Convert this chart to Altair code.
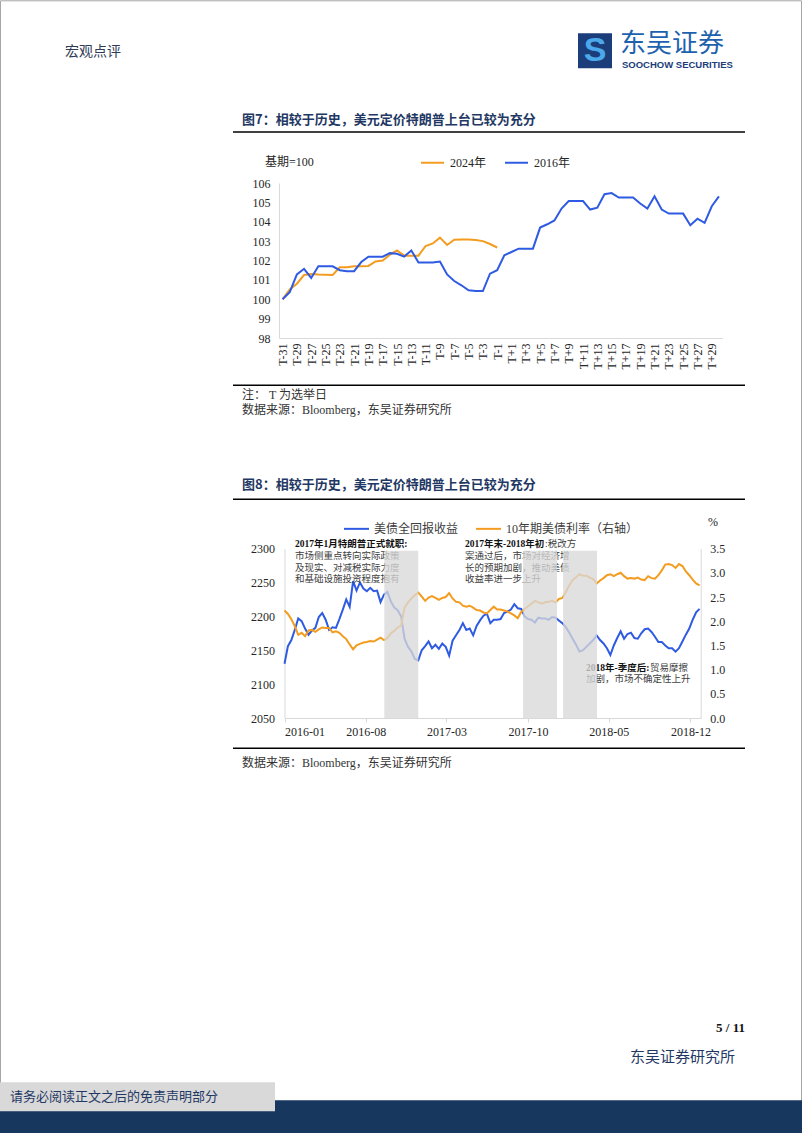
import altair as alt
import pandas as pd

# ---------------- Figure 7 data ----------------
t_labels = [f"T-{i}" for i in range(31, 0, -1)] + ["T"] + [f"T+{i}" for i in range(1, 31)]
fig7_series = ["2024年", "2016年"]
usd_2016 = [100.0, 100.37, 101.28, 101.57, 101.1, 101.7, 101.7, 101.7, 101.5, 101.45,
            101.45, 101.92, 102.2, 102.2, 102.2, 102.38, 102.35, 102.2, 102.52, 101.9,
            101.9, 101.9, 101.95, 101.28, 100.94, 100.72, 100.46, 100.42, 100.42, 101.32,
            101.5, 102.27, 102.44, 102.61, 102.61, 102.61, 103.7, 103.87, 104.07, 104.68,
            105.07, 105.07, 105.07, 104.63, 104.73, 105.42, 105.48, 105.25, 105.25, 105.25,
            104.94, 104.68, 105.31, 104.63, 104.42, 104.42, 104.42, 103.82, 104.16, 103.94,
            104.8, 105.31]
usd_2024 = [100.0, 100.5, 100.8, 101.25, 101.3, 101.28, 101.27, 101.25, 101.65, 101.65,
            101.7, 101.7, 101.72, 101.95, 102.0, 102.3, 102.52, 102.25, 102.25, 102.25,
            102.75, 102.88, 103.18, 102.8, 103.07, 103.08, 103.08, 103.06, 103.0, 102.85,
            102.67]

# ---------------- Figure 8 data ----------------
fig8_series = ["美债全回报收益", "10年期美债利率（右轴）"]
series_start = "2016-01-01"
series_step = "9D"
treasury_tr = [2130, 2156, 2165, 2180, 2197, 2193, 2182, 2173, 2179, 2183,
               2199, 2205, 2195, 2180, 2184, 2183, 2196, 2210, 2225, 2214,
               2252, 2238, 2250, 2241, 2237, 2242, 2237, 2238, 2221, 2232,
               2236, 2222, 2213, 2209, 2200, 2167, 2155, 2148, 2137, 2135,
               2150, 2156, 2163, 2153, 2158, 2152, 2160, 2155, 2142, 2164,
               2172, 2180, 2190, 2180, 2182, 2172, 2186, 2194, 2201, 2204,
               2190, 2195, 2195, 2196, 2205, 2207, 2210, 2218, 2212, 2211,
               2200, 2196, 2195, 2191, 2198, 2197, 2197, 2195, 2199, 2198,
               2194, 2190, 2184, 2176, 2167, 2158, 2148, 2150, 2155, 2160,
               2165, 2172, 2165, 2160, 2153, 2143, 2157, 2168, 2178, 2167,
               2174, 2176, 2168, 2167, 2175, 2181, 2182, 2177, 2170, 2162,
               2162, 2157, 2153, 2153, 2148, 2153, 2163, 2173, 2182, 2195,
               2206, 2211]
ust_10y = [2.22, 2.15, 2.04, 1.90, 1.72, 1.76, 1.69, 1.81, 1.82, 1.78,
           1.83, 1.87, 1.86, 1.86, 1.77, 1.79, 1.76, 1.69, 1.63, 1.52,
           1.42, 1.50, 1.53, 1.56, 1.57, 1.59, 1.58, 1.62, 1.66, 1.61,
           1.65, 1.75, 1.80, 1.87, 1.91, 2.28, 2.39, 2.47, 2.54, 2.59,
           2.51, 2.42, 2.49, 2.52, 2.48, 2.44, 2.48, 2.50, 2.58, 2.47,
           2.40, 2.39, 2.32, 2.30, 2.32, 2.28, 2.23, 2.22, 2.18, 2.16,
           2.23, 2.30, 2.24, 2.24, 2.22, 2.20, 2.16, 2.12, 2.06, 2.19,
           2.25, 2.31, 2.36, 2.42, 2.39, 2.36, 2.39, 2.40, 2.42, 2.39,
           2.46, 2.48, 2.60, 2.74, 2.85, 2.91, 2.97, 2.94, 2.94, 2.90,
           2.87, 2.78, 2.84, 2.89, 2.95, 2.97, 2.93, 2.97, 3.00, 2.93,
           2.88, 2.89, 2.88, 2.90, 2.86, 2.85, 2.93, 2.89, 2.88, 2.95,
           3.05, 3.17, 3.18, 3.16, 3.10, 3.18, 3.14, 3.03, 2.95, 2.86,
           2.78, 2.74]
shade_start = ["2016-09-19", "2017-09-18", "2018-01-01"]
shade_end = ["2016-12-17", "2017-12-16", "2018-03-31"]

# ---------------- styles ----------------
BLUE = "#2F5BE3"
ORANGE = "#F39C1F"
NAVY = "#1F3864"
AXIS_GRAY = "#D9D9D9"
TXT = "#262626"
SERIF = "Liberation Serif, Noto Sans CJK SC"
CJK = "Noto Sans CJK SC"

one = pd.DataFrame({"k": [0]})


def text_at(org, s, x, y, size=12, color=TXT, align="left", weight="normal",
            font=SERIF, baseline="middle"):
    return alt.Chart(one).mark_text(
        text=s, align=align, baseline=baseline, fontSize=size, color=color,
        fontWeight=weight, font=font
    ).encode(x=alt.value(x - org[0]), y=alt.value(y - org[1]))


def box_at(org, x, x2, y, y2, fill=None, stroke=None):
    if stroke is not None:
        kw = dict(fillOpacity=0, stroke=stroke, strokeWidth=1)
    elif fill is None:
        kw = dict(fillOpacity=0, strokeOpacity=0)
    else:
        kw = dict(fill=fill)
    return alt.Chart(one).mark_rect(**kw).encode(
        x=alt.value(x - org[0]), x2=alt.value(x2 - org[0]),
        y=alt.value(y - org[1]), y2=alt.value(y2 - org[1]))


def hrule_at(org, x, x2, y, color="#000000", width=1.5):
    return alt.Chart(one).mark_rule(color=color, strokeWidth=width).encode(
        x=alt.value(x - org[0]), x2=alt.value(x2 - org[0]), y=alt.value(y - org[1]))


# ---------------- Figure 7 ----------------
O7 = (279, 182.7)
W7, H7 = 443.5, 155

df_2016 = pd.DataFrame({"t": t_labels, "v": usd_2016, "s": fig7_series[1]})
df_2024 = pd.DataFrame({"t": t_labels[:len(usd_2024)], "v": usd_2024, "s": fig7_series[0]})

x7 = alt.X("t:O", scale=alt.Scale(type="point", domain=t_labels, padding=0.5),
           axis=alt.Axis(values=t_labels[::2], labelAngle=270, labelAlign="right",
                         labelBaseline="middle", labelPadding=5, ticks=False,
                         domainColor=AXIS_GRAY, labelFont=SERIF, labelFontSize=12,
                         labelColor=TXT, title=None, grid=False, labelOverlap=False))
y7 = alt.Y("v:Q", scale=alt.Scale(domain=[98, 106], nice=False, zero=False),
           axis=alt.Axis(values=list(range(98, 107)), ticks=False, domainColor=AXIS_GRAY,
                         labelFont=SERIF, labelFontSize=12, labelColor=TXT,
                         labelPadding=9, title=None, grid=False))
c7 = alt.Color("s:N", scale=alt.Scale(domain=fig7_series, range=[ORANGE, BLUE]),
               legend=alt.Legend(orient="none", legendX=141, legendY=-33,
                                 direction="horizontal", title=None, symbolType="stroke",
                                 symbolSize=529, symbolStrokeWidth=2, labelFont=SERIF,
                                 labelFontSize=12, labelColor=TXT, columnPadding=14,
                                 labelOffset=5, padding=0))

line_2024 = alt.Chart(df_2024).mark_line(strokeWidth=2).encode(x=x7, y=y7, color=c7)
line_2016 = alt.Chart(df_2016).mark_line(strokeWidth=2).encode(x=x7, y=y7, color=c7)

fig7 = alt.layer(
    box_at(O7, 0, 802, 0, 1133),
    box_at(O7, 0.5, 801.5, 0.5, 1132.5, stroke="#A6A6A6"),
    # page header
    text_at(O7, "宏观点评", 65, 52, size=14, color="#2F3B55", font=CJK),
    box_at(O7, 578, 612, 33, 68, fill="#1B3D7A"),
    text_at(O7, "S", 595, 51, size=34, color="#4BA8EA", align="center",
            weight="bold", font="Liberation Sans"),
    text_at(O7, "东吴证券", 620, 44, size=26, color="#1E62AE", font=CJK),
    text_at(O7, "SOOCHOW SECURITIES", 622, 65, size=9.5, color="#1B3D7A",
            weight="bold", font="Liberation Sans"),
    # figure 7 title
    text_at(O7, "图7：相较于历史，美元定价特朗普上台已较为充分", 242, 120, size=13,
            color=NAVY, weight="bold", font=CJK),
    hrule_at(O7, 233, 745, 131.7),
    text_at(O7, "基期=100", 265, 162, size=12),
    line_2024,
    line_2016,
    hrule_at(O7, 233, 745, 385),
    text_at(O7, "注：  T 为选举日", 242, 395, size=12, color="#333333"),
    text_at(O7, "数据来源：Bloomberg，东吴证券研究所", 242, 410, size=12, color="#333333"),
).properties(width=W7, height=H7)

# ---------------- Figure 8 ----------------
O8 = (279, 548.3)
W8, H8 = 421.7, 169.4

dates = pd.date_range(series_start, periods=len(treasury_tr), freq=series_step)
df_tr = pd.DataFrame({"d": dates, "v": treasury_tr, "s": fig8_series[0]})
df_10y = pd.DataFrame({"d": dates, "v": ust_10y, "s": fig8_series[1]})
df_shade = pd.DataFrame({"a": pd.to_datetime(shade_start), "b": pd.to_datetime(shade_end)})

xdom = [alt.DateTime(year=2016, month=1, date=1), alt.DateTime(year=2018, month=12, date=28)]
xticks = [alt.DateTime(year=yy, month=mm, date=1)
          for yy, mm in [(2016, 1), (2016, 8), (2017, 3), (2017, 10), (2018, 5), (2018, 12)]]
xscale8 = alt.Scale(domain=xdom, range=[5.5, W8])
xaxis8 = alt.Axis(values=xticks, format="%Y-%m", domainColor=AXIS_GRAY, tickColor=AXIS_GRAY,
                  tickSize=4, labelFont=SERIF, labelFontSize=12, labelColor=TXT,
                  labelPadding=4, title=None, grid=False, labelOverlap=False)

c8 = alt.Color("s:N", scale=alt.Scale(domain=fig8_series, range=[BLUE, ORANGE]),
               legend=alt.Legend(orient="none", legendX=64, legendY=-33.5,
                                 direction="horizontal", title=None, symbolType="stroke",
                                 symbolSize=625, symbolStrokeWidth=2, labelFont=SERIF,
                                 labelFontSize=12, labelColor="#404040", columnPadding=13,
                                 labelOffset=4, padding=0))

line_tr = alt.Chart(df_tr).mark_line(strokeWidth=2).encode(
    x=alt.X("d:T", scale=xscale8, axis=xaxis8),
    y=alt.Y("v:Q", scale=alt.Scale(domain=[2050, 2300], nice=False, zero=False),
            axis=alt.Axis(orient="left", offset=-5.5, values=list(range(2050, 2301, 50)),
                          format="d", ticks=False, domainColor=AXIS_GRAY, labelFont=SERIF,
                          labelFontSize=12, labelColor=TXT, labelPadding=10,
                          title=None, grid=False)),
    color=c8)
line_10y = alt.Chart(df_10y).mark_line(strokeWidth=2).encode(
    x=alt.X("d:T", scale=xscale8, axis=xaxis8),
    y=alt.Y("v:Q", scale=alt.Scale(domain=[0, 3.5], nice=False, zero=True),
            axis=alt.Axis(orient="right", values=[0, 0.5, 1, 1.5, 2, 2.5, 3, 3.5],
                          format=".1f", ticks=False, domainColor=AXIS_GRAY,
                          labelFont=SERIF, labelFontSize=12, labelColor=TXT,
                          labelPadding=9, title=None, grid=False)),
    color=c8)
shades = alt.Chart(df_shade).mark_rect(color="#D9D9D9", opacity=0.78).encode(
    x=alt.X("a:T", scale=xscale8, axis=xaxis8),
    x2="b:T",
    y=alt.YDatum(2297, scale=alt.Scale(domain=[2050, 2300], nice=False, zero=False), axis=None),
    y2=alt.Y2Datum(2050))

ANN = 9.5
fig8 = alt.layer(
    text_at(O8, "图8：相较于历史，美元定价特朗普上台已较为充分", 242, 485, size=13,
            color=NAVY, weight="bold", font=CJK),
    hrule_at(O8, 233, 745, 499),
    text_at(O8, "%", 713, 522, size=12, align="center"),
    line_tr,
    line_10y,
    # annotations
    text_at(O8, "2017年1月特朗普正式就职:", 295, 544, size=ANN, color="#111111", weight="bold"),
    text_at(O8, "市场侧重点转向实际政策", 295, 555.7, size=ANN, color="#404040"),
    text_at(O8, "及现实、对减税实际力度", 295, 567.4, size=ANN, color="#404040"),
    text_at(O8, "和基础设施投资程度抱有", 295, 579.1, size=ANN, color="#404040"),
    text_at(O8, "2017年末-2018年初", 465, 544, size=ANN, color="#111111", weight="bold"),
    text_at(O8, ":税改方", 545, 544, size=ANN, color="#404040"),
    text_at(O8, "案通过后，市场对经济增", 465, 555.7, size=ANN, color="#404040"),
    text_at(O8, "长的预期加剧，推动美债", 465, 567.4, size=ANN, color="#404040"),
    text_at(O8, "收益率进一步上升", 465, 579.1, size=ANN, color="#404040"),
    text_at(O8, "2018年-季度后:", 586, 667.3, size=ANN, color="#111111", weight="bold"),
    text_at(O8, "贸易摩擦", 650, 667.3, size=ANN, color="#404040"),
    text_at(O8, "加剧，市场不确定性上升", 586, 679, size=ANN, color="#404040"),
    shades,
    hrule_at(O8, 233, 745, 748),
    text_at(O8, "数据来源：Bloomberg，东吴证券研究所", 242, 763, size=12, color="#333333"),
    # footer
    text_at(O8, "5 / 11", 745, 1028, size=13, color="#111111", align="right", weight="bold"),
    text_at(O8, "东吴证券研究所", 735, 1057, size=15, color=NAVY, align="right", font=CJK),
    box_at(O8, 0, 802, 1100, 1133, fill="#17375E"),
    box_at(O8, 0, 275, 1082, 1111, fill="#D9D9D9"),
    text_at(O8, "请务必阅读正文之后的免责声明部分", 10, 1097, size=13, color=NAVY, font=CJK),
).resolve_scale(y="independent").properties(width=W8, height=H8)

chart = alt.vconcat(fig7, fig8, spacing=548.3 - 182.7 - H7, bounds="flush").resolve_scale(
    color="independent", x="independent", y="independent"
).resolve_legend(color="independent").properties(
    padding=0, background="white"
).configure_view(stroke=None)

chart.save("out.html", embed_options={"renderer": "svg", "actions": False})
